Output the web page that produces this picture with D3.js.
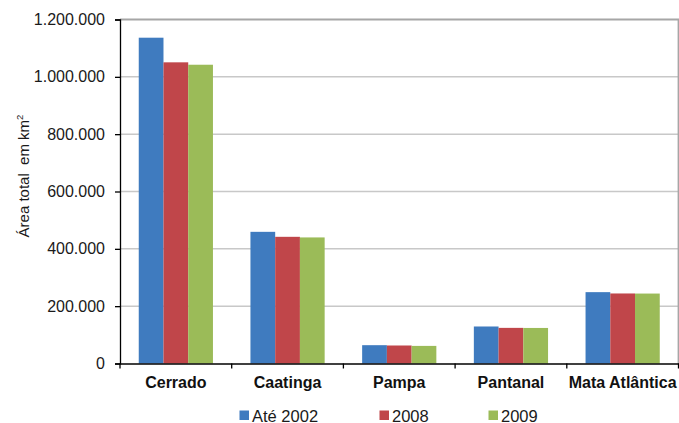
<!DOCTYPE html>
<html>
<head>
<meta charset="utf-8">
<script src="https://cdn.jsdelivr.net/npm/d3@7"></script>
<style>
  html, body { margin: 0; padding: 0; background: #fff; }
  svg { display: block; font-family: "Liberation Sans", Arial, sans-serif; }
  .ylabel { white-space: pre; }
</style>
</head>
<body>
<svg id="chart" width="679" height="423"></svg>
<script>
// Biomas: área total (km²) por período
const categories = ["Cerrado", "Caatinga", "Pampa", "Pantanal", "Mata Atlântica"];
const seriesNames = ["Até 2002", "2008", "2009"];
const seriesColors = ["#3f7bbf", "#c0464a", "#9bbb58"];
const ate2002 = [1136500, 459300, 63900, 129100, 248900];
const ano2008 = [1050600, 441900, 62800, 124300, 244300];
const ano2009 = [1042200, 439800, 61400, 124000, 244000];
const yTicks = [0, 200000, 400000, 600000, 800000, 1000000, 1200000];

const seriesValues = [ate2002, ano2008, ano2009];
const FONT = "Liberation Sans, Arial, sans-serif";

const svg = d3.select("#chart");
const m = { left: 120, right: 678.5, top: 19.5, bottom: 363.5 };

const x = d3.scaleBand().domain(categories).range([m.left, m.right]).paddingInner(0).paddingOuter(0);
const xInner = d3.scaleBand().domain(seriesNames).range([0, x.bandwidth()]).paddingInner(0).paddingOuter(0.758);
const y = d3.scaleLinear().domain([0, 1200000]).range([m.bottom, m.top]);

const fmt = v => d3.format(",")(v).replace(/,/g, ".");

// gridlines
svg.append("g").selectAll("line").data(yTicks.slice(1, -1)).join("line")
  .attr("x1", m.left).attr("x2", m.right)
  .attr("y1", d => y(d)).attr("y2", d => y(d))
  .attr("stroke", "#c8c8c8").attr("stroke-width", 1.5);

// plot frame (top/right)
svg.append("path")
  .attr("d", `M${m.left},${m.top}H${m.right}V${m.bottom}`)
  .attr("fill", "none").attr("stroke", "#a6a6a6").attr("stroke-width", 1.8);

// bars
const groups = svg.append("g").selectAll("g").data(categories).join("g")
  .attr("transform", d => `translate(${x(d)},0)`);
groups.selectAll("rect")
  .data((c, i) => seriesNames.map((s, j) => ({ s, j, v: seriesValues[j][i] })))
  .join("rect")
  .attr("x", d => xInner(d.s))
  .attr("width", xInner.bandwidth())
  .attr("y", d => y(d.v))
  .attr("height", d => y(0) - y(d.v))
  .attr("fill", d => seriesColors[d.j]);

// y axis
const yAxis = svg.append("g").attr("transform", `translate(${m.left},0)`)
  .call(d3.axisLeft(y).tickValues(yTicks).tickFormat(fmt).tickSize(5).tickPadding(10));
yAxis.select(".domain").attr("stroke", "#000").attr("stroke-width", 1.3);
yAxis.selectAll(".tick line").attr("stroke", "#000").attr("stroke-width", 1.3);
yAxis.selectAll("text").attr("font-size", 16).attr("fill", "#1a1a1a")
  .attr("font-family", FONT);

// x axis
const xAxis = svg.append("g").attr("transform", `translate(0,${m.bottom})`)
  .call(d3.axisBottom(x).tickSize(0).tickPadding(0));
xAxis.select(".domain").attr("stroke", "#000").attr("stroke-width", 1.3);
xAxis.selectAll("text").attr("font-size", 16).attr("font-weight", "bold").attr("fill", "#111")
  .attr("font-family", FONT).attr("dy", null).attr("y", 24);
// category boundary ticks
svg.append("g").selectAll("line")
  .data(categories.map(c => x(c)).concat([m.right]))
  .join("line")
  .attr("x1", d => d).attr("x2", d => d)
  .attr("y1", m.bottom).attr("y2", m.bottom + 5)
  .attr("stroke", "#000").attr("stroke-width", 1.3);

// y label
const yl = svg.append("text")
  .attr("class", "ylabel")
  .attr("transform", `translate(29,176) rotate(-90)`)
  .attr("text-anchor", "middle")
  .attr("font-size", 15).attr("fill", "#1a1a1a");
yl.append("tspan").text("Área total  em km");
yl.append("tspan").attr("font-size", 9.5).attr("dy", -6).text("2");

// legend
const legendX = [239.5, 379.5, 488.5];
const lg = svg.append("g").selectAll("g").data(seriesNames).join("g")
  .attr("transform", (d, i) => `translate(${legendX[i]},410.5)`);
lg.append("rect").attr("width", 9.5).attr("height", 9.5).attr("fill", (d, i) => seriesColors[i]);
lg.append("text").attr("x", 12.5).attr("y", 11).attr("font-size", 16.5).attr("fill", "#1a1a1a").text(d => d);
</script>
</body>
</html>
